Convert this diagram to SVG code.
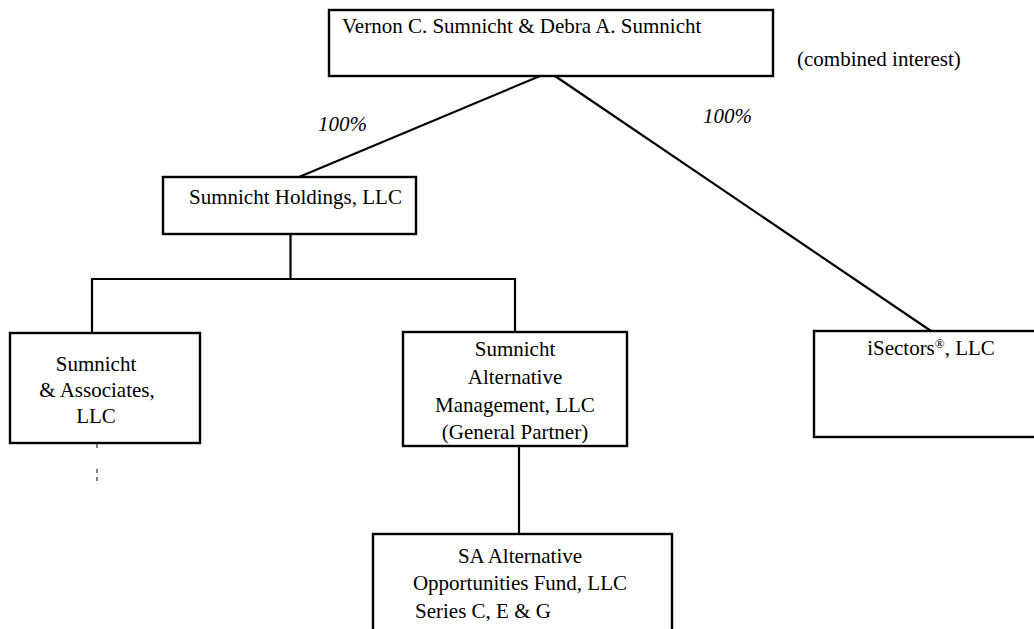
<svg xmlns="http://www.w3.org/2000/svg" width="1034" height="629" viewBox="0 0 1034 629">
<style>
.box{fill:#fff;stroke:#000;stroke-width:2.4}
.ln{stroke:#000;stroke-width:2.2;fill:none}
.t{font-family:"Liberation Serif","Times New Roman",serif;font-size:21px;fill:#000}
.c{text-anchor:middle}
.i{font-style:italic}
</style>
<rect width="1034" height="629" fill="#fff"/>
<g id="connectors">
<line class="ln" x1="540" y1="76" x2="299" y2="177"/>
<line class="ln" x1="555" y1="76" x2="931" y2="331"/>
<line class="ln" x1="290.5" y1="234" x2="290.5" y2="279"/>
<line class="ln" x1="92" y1="279" x2="516" y2="279"/>
<line class="ln" x1="92" y1="278" x2="92" y2="333"/>
<line class="ln" x1="515" y1="278" x2="515" y2="332"/>
<line class="ln" x1="519" y1="446" x2="519" y2="534"/>
<path d="M97 444V448M97 469V473M97 477V481" stroke="#000" stroke-width="1"/>
<text class="t i" x="318" y="131">100%</text>
<text class="t i" x="703" y="123">100%</text>
</g>
<g id="owners">
<rect class="box" x="329" y="10" width="444" height="66"/>
<text class="t" x="342" y="33">Vernon C. Sumnicht &amp; Debra A. Sumnicht</text>
<text class="t" x="797" y="66">(combined interest)</text>
</g>
<g id="holdings">
<rect class="box" x="163" y="177" width="253" height="57"/>
<text class="t" x="189" y="204">Sumnicht Holdings, LLC</text>
</g>
<g id="associates">
<rect class="box" x="10" y="333" width="190" height="110"/>
<text class="t c" x="96" y="371">Sumnicht</text>
<text class="t c" x="97" y="397">&amp; Associates,</text>
<text class="t c" x="96" y="423">LLC</text>
</g>
<g id="altmgmt">
<rect class="box" x="403" y="332" width="224" height="114"/>
<text class="t c" x="515" y="356">Sumnicht</text>
<text class="t c" x="515" y="384">Alternative</text>
<text class="t c" x="515" y="412">Management, LLC</text>
<text class="t c" x="515" y="439">(General Partner)</text>
</g>
<g id="isectors">
<rect class="box" x="814" y="331" width="230" height="106"/>
<text class="t c" x="931" y="355">iSectors<tspan font-size="13" dy="-7">®</tspan><tspan dy="7">, LLC</tspan></text>
</g>
<g id="safund">
<rect class="box" x="373" y="534" width="299" height="110"/>
<text class="t c" x="520" y="563">SA Alternative</text>
<text class="t c" x="520" y="590">Opportunities Fund, LLC</text>
<text class="t" x="415" y="618">Series C, E &amp; G</text>
</g>
</svg>
